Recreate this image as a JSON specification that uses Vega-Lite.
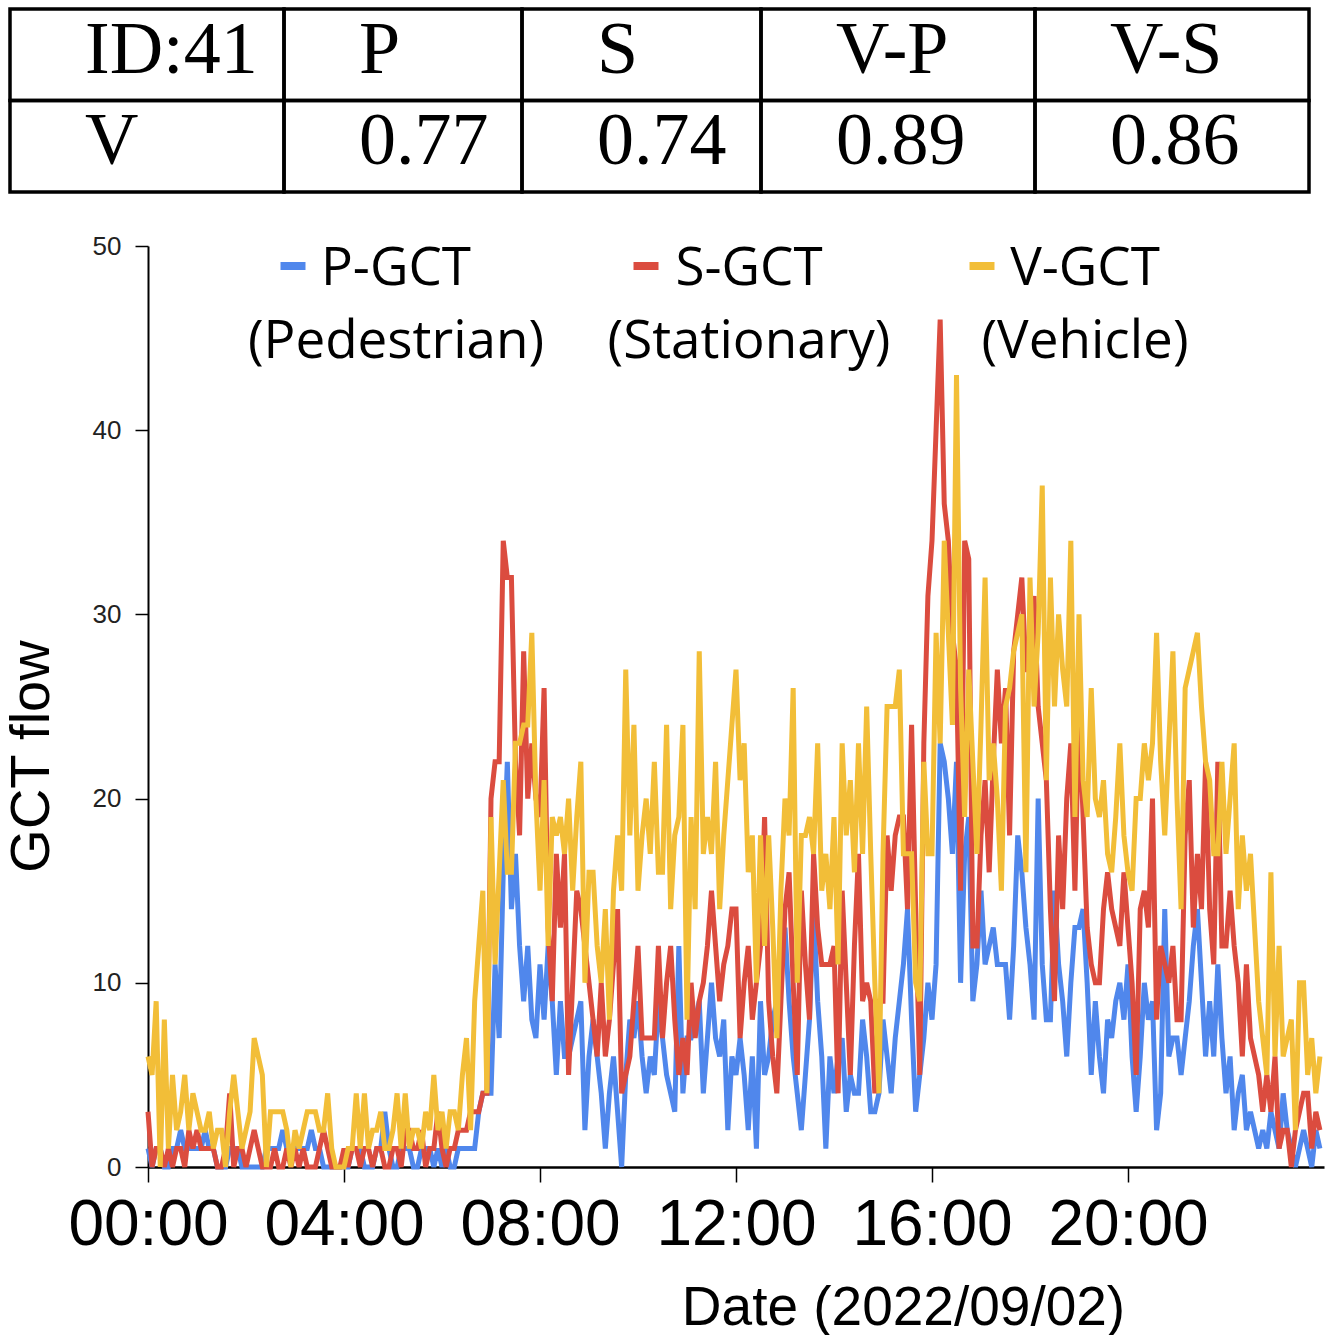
{
  "$schema": "https://vega.github.io/schema/vega-lite/v6.json",
  "description": "GCT flow by mode for grid ID 41 on 2022/09/02, with correlation table",
  "background": "white",
  "padding": {"left": 3, "top": 7, "right": 0, "bottom": 0},
  "config": {
    "view": {"stroke": null},
    "font": "Liberation Sans",
    "style": {"guide-label": {"lineHeight": 73}}
  },
  "datasets": {
    "table": [
      {"col": 0, "row": 0, "label": "ID:41"},
      {"col": 0, "row": 1, "label": "V"},
      {"col": 1, "row": 0, "label": "P"},
      {"col": 1, "row": 1, "label": "0.77"},
      {"col": 2, "row": 0, "label": "S"},
      {"col": 2, "row": 1, "label": "0.74"},
      {"col": 3, "row": 0, "label": "V-P"},
      {"col": 3, "row": 1, "label": "0.89"},
      {"col": 4, "row": 0, "label": "V-S"},
      {"col": 4, "row": 1, "label": "0.86"}
    ],
    "gct": [
      {"t":0,"p":1,"s":3,"v":6},{"t":5,"p":0,"s":0,"v":5},{"t":10,"p":1,"s":1,"v":9},{"t":15,"p":1,"s":1,"v":0},{"t":20,"p":0,"s":0,"v":8},
      {"t":25,"p":0,"s":1,"v":1},{"t":30,"p":1,"s":0,"v":5},{"t":35,"p":1,"s":1,"v":2},{"t":40,"p":2,"s":1,"v":3},{"t":45,"p":1,"s":0,"v":5},
      {"t":50,"p":1,"s":2,"v":2},{"t":55,"p":1,"s":1,"v":4},{"t":60,"p":1,"s":2,"v":3},{"t":65,"p":1,"s":1,"v":2},{"t":70,"p":2,"s":1,"v":2},
      {"t":75,"p":1,"s":1,"v":3},{"t":80,"p":1,"s":1,"v":1},{"t":85,"p":0,"s":0,"v":2},{"t":90,"p":0,"s":0,"v":2},{"t":95,"p":0,"s":1,"v":0},
      {"t":100,"p":1,"s":4,"v":3},{"t":105,"p":1,"s":0,"v":5},{"t":110,"p":1,"s":1,"v":3},{"t":115,"p":0,"s":1,"v":1},{"t":120,"p":0,"s":0,"v":2},
      {"t":125,"p":0,"s":1,"v":3},{"t":130,"p":0,"s":2,"v":7},{"t":135,"p":0,"s":1,"v":6},{"t":140,"p":0,"s":0,"v":5},{"t":145,"p":1,"s":0,"v":0},
      {"t":150,"p":1,"s":0,"v":3},{"t":155,"p":1,"s":1,"v":3},{"t":160,"p":1,"s":0,"v":3},{"t":165,"p":2,"s":0,"v":3},{"t":170,"p":1,"s":1,"v":2},
      {"t":175,"p":1,"s":0,"v":0},{"t":180,"p":1,"s":1,"v":2},{"t":185,"p":1,"s":0,"v":1},{"t":190,"p":1,"s":1,"v":2},{"t":195,"p":1,"s":0,"v":3},
      {"t":200,"p":2,"s":0,"v":3},{"t":205,"p":1,"s":0,"v":3},{"t":210,"p":1,"s":1,"v":2},{"t":215,"p":0,"s":2,"v":2},{"t":220,"p":0,"s":1,"v":4},
      {"t":225,"p":0,"s":0,"v":1},{"t":230,"p":0,"s":0,"v":0},{"t":235,"p":0,"s":0,"v":0},{"t":240,"p":0,"s":1,"v":0},{"t":245,"p":0,"s":0,"v":1},
      {"t":250,"p":1,"s":1,"v":1},{"t":255,"p":1,"s":1,"v":4},{"t":260,"p":1,"s":0,"v":1},{"t":265,"p":0,"s":1,"v":4},{"t":270,"p":0,"s":1,"v":1},
      {"t":275,"p":0,"s":0,"v":2},{"t":280,"p":1,"s":1,"v":2},{"t":285,"p":1,"s":1,"v":3},{"t":290,"p":3,"s":0,"v":1},{"t":295,"p":1,"s":0,"v":1},
      {"t":300,"p":0,"s":1,"v":2},{"t":305,"p":0,"s":1,"v":4},{"t":310,"p":1,"s":0,"v":1},{"t":315,"p":1,"s":2,"v":4},{"t":320,"p":1,"s":2,"v":1},
      {"t":325,"p":0,"s":1,"v":2},{"t":330,"p":0,"s":1,"v":2},{"t":335,"p":1,"s":2,"v":1},{"t":340,"p":1,"s":0,"v":3},{"t":345,"p":1,"s":1,"v":2},
      {"t":350,"p":0,"s":1,"v":5},{"t":355,"p":1,"s":3,"v":2},{"t":360,"p":0,"s":1,"v":3},{"t":365,"p":1,"s":0,"v":1},{"t":370,"p":0,"s":1,"v":3},
      {"t":375,"p":0,"s":1,"v":3},{"t":380,"p":1,"s":2,"v":2},{"t":385,"p":1,"s":2,"v":5},{"t":390,"p":1,"s":2,"v":7},{"t":395,"p":1,"s":3,"v":2},
      {"t":400,"p":1,"s":3,"v":9},{"t":405,"p":3,"s":3,"v":12},{"t":410,"p":4,"s":4,"v":15},{"t":415,"p":4,"s":4,"v":4},{"t":420,"p":4,"s":20,"v":19},
      {"t":425,"p":11,"s":22,"v":11},{"t":430,"p":7,"s":22,"v":16},{"t":435,"p":16,"s":34,"v":21},{"t":440,"p":22,"s":32,"v":16},{"t":445,"p":14,"s":32,"v":16},
      {"t":450,"p":17,"s":22,"v":23},{"t":455,"p":12,"s":18,"v":23},{"t":460,"p":9,"s":28,"v":24},{"t":465,"p":12,"s":20,"v":24},{"t":470,"p":8,"s":23,"v":29},
      {"t":475,"p":7,"s":20,"v":20},{"t":480,"p":11,"s":19,"v":15},{"t":485,"p":8,"s":26,"v":21},{"t":490,"p":12,"s":13,"v":12},{"t":495,"p":9,"s":9,"v":19},
      {"t":500,"p":5,"s":17,"v":18},{"t":505,"p":9,"s":13,"v":19},{"t":510,"p":6,"s":17,"v":17},{"t":515,"p":6,"s":5,"v":20},{"t":520,"p":7,"s":10,"v":15},
      {"t":525,"p":8,"s":15,"v":19},{"t":530,"p":9,"s":14,"v":22},{"t":535,"p":2,"s":12,"v":10},{"t":540,"p":6,"s":10,"v":16},{"t":545,"p":8,"s":8,"v":16},
      {"t":550,"p":6,"s":6,"v":12},{"t":555,"p":4,"s":10,"v":10},{"t":560,"p":1,"s":6,"v":14},{"t":565,"p":4,"s":8,"v":8},{"t":570,"p":6,"s":11,"v":15},
      {"t":575,"p":3,"s":14,"v":18},{"t":580,"p":0,"s":4,"v":15},{"t":585,"p":5,"s":5,"v":27},{"t":590,"p":8,"s":6,"v":18},{"t":595,"p":7,"s":9,"v":24},
      {"t":600,"p":9,"s":12,"v":15},{"t":605,"p":6,"s":7,"v":18},{"t":610,"p":4,"s":7,"v":20},{"t":615,"p":6,"s":7,"v":17},{"t":620,"p":5,"s":7,"v":22},
      {"t":625,"p":9,"s":12,"v":16},{"t":630,"p":7,"s":7,"v":16},{"t":635,"p":5,"s":10,"v":24},{"t":640,"p":4,"s":12,"v":14},{"t":645,"p":3,"s":8,"v":18},
      {"t":650,"p":12,"s":5,"v":19},{"t":655,"p":4,"s":7,"v":24},{"t":660,"p":7,"s":5,"v":8},{"t":665,"p":7,"s":10,"v":19},{"t":670,"p":8,"s":7,"v":14},
      {"t":675,"p":9,"s":9,"v":28},{"t":680,"p":4,"s":10,"v":17},{"t":685,"p":7,"s":12,"v":19},{"t":690,"p":10,"s":15,"v":17},{"t":695,"p":7,"s":12,"v":22},
      {"t":700,"p":6,"s":9,"v":14},{"t":705,"p":8,"s":11,"v":18},{"t":710,"p":2,"s":12,"v":21},{"t":715,"p":6,"s":14,"v":24},{"t":720,"p":5,"s":14,"v":27},
      {"t":725,"p":7,"s":7,"v":21},{"t":730,"p":5,"s":10,"v":23},{"t":735,"p":2,"s":12,"v":16},{"t":740,"p":6,"s":8,"v":18},{"t":745,"p":1,"s":10,"v":10},
      {"t":750,"p":9,"s":12,"v":18},{"t":755,"p":5,"s":19,"v":12},{"t":760,"p":6,"s":9,"v":18},{"t":765,"p":8,"s":6,"v":13},{"t":770,"p":9,"s":4,"v":7},
      {"t":775,"p":11,"s":9,"v":15},{"t":780,"p":13,"s":14,"v":20},{"t":785,"p":9,"s":16,"v":18},{"t":790,"p":6,"s":10,"v":26},{"t":795,"p":4,"s":5,"v":10},
      {"t":800,"p":2,"s":15,"v":18},{"t":805,"p":5,"s":11,"v":18},{"t":810,"p":8,"s":8,"v":19},{"t":815,"p":14,"s":17,"v":17},{"t":820,"p":9,"s":13,"v":23},
      {"t":825,"p":6,"s":11,"v":15},{"t":830,"p":1,"s":11,"v":17},{"t":835,"p":6,"s":11,"v":14},{"t":840,"p":4,"s":12,"v":19},{"t":845,"p":6,"s":4,"v":11},
      {"t":850,"p":7,"s":15,"v":23},{"t":855,"p":3,"s":10,"v":18},{"t":860,"p":5,"s":5,"v":21},{"t":865,"p":4,"s":12,"v":16},{"t":870,"p":4,"s":17,"v":23},
      {"t":875,"p":8,"s":9,"v":17},{"t":880,"p":6,"s":10,"v":25},{"t":885,"p":3,"s":9,"v":17},{"t":890,"p":3,"s":4,"v":10},{"t":895,"p":4,"s":9,"v":4},
      {"t":900,"p":8,"s":9,"v":17},{"t":905,"p":6,"s":18,"v":25},{"t":910,"p":4,"s":15,"v":25},{"t":915,"p":7,"s":18,"v":25},{"t":920,"p":9,"s":19,"v":27},
      {"t":925,"p":11,"s":19,"v":17},{"t":930,"p":14,"s":14,"v":17},{"t":935,"p":8,"s":24,"v":17},{"t":940,"p":3,"s":14,"v":10},{"t":945,"p":5,"s":5,"v":9},
      {"t":950,"p":7,"s":23,"v":22},{"t":955,"p":10,"s":31,"v":17},{"t":960,"p":8,"s":34,"v":17},{"t":965,"p":11,"s":40,"v":29},{"t":970,"p":23,"s":46,"v":23},
      {"t":975,"p":22,"s":36,"v":34},{"t":980,"p":20,"s":34,"v":29},{"t":985,"p":17,"s":29,"v":24},{"t":990,"p":22,"s":27,"v":43},{"t":995,"p":10,"s":15,"v":26},
      {"t":1000,"p":17,"s":34,"v":19},{"t":1005,"p":19,"s":33,"v":27},{"t":1010,"p":9,"s":12,"v":22},{"t":1015,"p":11,"s":12,"v":17},{"t":1020,"p":15,"s":18,"v":24},
      {"t":1025,"p":11,"s":21,"v":32},{"t":1030,"p":12,"s":16,"v":21},{"t":1035,"p":13,"s":22,"v":23},{"t":1040,"p":11,"s":27,"v":20},{"t":1045,"p":11,"s":23,"v":15},
      {"t":1050,"p":11,"s":26,"v":25},{"t":1055,"p":8,"s":18,"v":26},{"t":1060,"p":12,"s":28,"v":28},{"t":1065,"p":18,"s":30,"v":29},{"t":1070,"p":16,"s":32,"v":30},
      {"t":1075,"p":13,"s":27,"v":16},{"t":1080,"p":11,"s":27,"v":32},{"t":1085,"p":8,"s":31,"v":25},{"t":1090,"p":20,"s":25,"v":29},{"t":1095,"p":11,"s":23,"v":37},
      {"t":1100,"p":8,"s":21,"v":21},{"t":1105,"p":8,"s":14,"v":32},{"t":1110,"p":15,"s":9,"v":25},{"t":1115,"p":11,"s":18,"v":30},{"t":1120,"p":9,"s":14,"v":27},
      {"t":1125,"p":6,"s":20,"v":25},{"t":1130,"p":10,"s":23,"v":34},{"t":1135,"p":13,"s":15,"v":19},{"t":1140,"p":13,"s":25,"v":30},{"t":1145,"p":14,"s":19,"v":21},
      {"t":1150,"p":10,"s":13,"v":19},{"t":1155,"p":5,"s":11,"v":26},{"t":1160,"p":9,"s":10,"v":20},{"t":1165,"p":6,"s":10,"v":19},{"t":1170,"p":4,"s":14,"v":21},
      {"t":1175,"p":8,"s":16,"v":17},{"t":1180,"p":7,"s":14,"v":16},{"t":1185,"p":9,"s":13,"v":19},{"t":1190,"p":10,"s":12,"v":23},{"t":1195,"p":8,"s":16,"v":18},
      {"t":1200,"p":11,"s":13,"v":16},{"t":1205,"p":6,"s":10,"v":15},{"t":1210,"p":3,"s":5,"v":20},{"t":1215,"p":6,"s":14,"v":20},{"t":1220,"p":10,"s":15,"v":23},
      {"t":1225,"p":8,"s":13,"v":21},{"t":1230,"p":9,"s":20,"v":23},{"t":1235,"p":2,"s":8,"v":29},{"t":1240,"p":4,"s":12,"v":22},{"t":1245,"p":14,"s":11,"v":18},
      {"t":1250,"p":6,"s":10,"v":23},{"t":1255,"p":7,"s":12,"v":28},{"t":1260,"p":7,"s":8,"v":20},{"t":1265,"p":5,"s":8,"v":14},{"t":1270,"p":7,"s":18,"v":26},
      {"t":1275,"p":9,"s":21,"v":27},{"t":1280,"p":12,"s":13,"v":28},{"t":1285,"p":14,"s":17,"v":29},{"t":1290,"p":10,"s":14,"v":25},{"t":1295,"p":6,"s":22,"v":22},
      {"t":1300,"p":9,"s":14,"v":21},{"t":1305,"p":6,"s":11,"v":17},{"t":1310,"p":11,"s":22,"v":17},{"t":1315,"p":7,"s":12,"v":22},{"t":1320,"p":4,"s":12,"v":17},
      {"t":1325,"p":6,"s":15,"v":20},{"t":1330,"p":2,"s":12,"v":23},{"t":1335,"p":4,"s":10,"v":14},{"t":1340,"p":5,"s":6,"v":18},{"t":1345,"p":2,"s":11,"v":15},
      {"t":1350,"p":3,"s":7,"v":17},{"t":1355,"p":2,"s":6,"v":13},{"t":1360,"p":1,"s":5,"v":9},{"t":1365,"p":2,"s":3,"v":7},{"t":1370,"p":1,"s":5,"v":5},
      {"t":1375,"p":3,"s":3,"v":16},{"t":1380,"p":2,"s":6,"v":6},{"t":1385,"p":1,"s":1,"v":12},{"t":1390,"p":4,"s":2,"v":6},{"t":1395,"p":2,"s":2,"v":7},
      {"t":1400,"p":1,"s":0,"v":8},{"t":1405,"p":0,"s":2,"v":2},{"t":1410,"p":1,"s":3,"v":10},{"t":1415,"p":2,"s":4,"v":10},{"t":1420,"p":1,"s":4,"v":5},
      {"t":1425,"p":0,"s":1,"v":7},{"t":1430,"p":2,"s":3,"v":4},{"t":1435,"p":1,"s":2,"v":6}
    ]
  },
  "vconcat": [
    {
      "hconcat": [
        {
          "width": 274, "height": 183,
          "data": {"name": "table"},
          "transform": [{"filter": "datum.col == 0"}],
          "encoding": {"y": {"field": "row", "type": "ordinal", "axis": null, "scale": {"paddingInner": 0, "paddingOuter": 0}}},
          "layer": [
            {"mark": {"type": "rect", "filled": false, "stroke": "black", "strokeWidth": 3.5}},
            {"mark": {"type": "text", "align": "left", "baseline": "alphabetic", "dy": 18, "font": "Liberation Serif", "fontSize": 74, "color": "black"},
             "encoding": {"x": {"value": 75}, "text": {"field": "label"}}}
          ]
        },
        {
          "width": 238, "height": 183,
          "data": {"name": "table"},
          "transform": [{"filter": "datum.col == 1"}],
          "encoding": {"y": {"field": "row", "type": "ordinal", "axis": null, "scale": {"paddingInner": 0, "paddingOuter": 0}}},
          "layer": [
            {"mark": {"type": "rect", "filled": false, "stroke": "black", "strokeWidth": 3.5}},
            {"mark": {"type": "text", "align": "left", "baseline": "alphabetic", "dy": 18, "font": "Liberation Serif", "fontSize": 74, "color": "black"},
             "encoding": {"x": {"value": 75}, "text": {"field": "label"}}}
          ]
        },
        {
          "width": 239, "height": 183,
          "data": {"name": "table"},
          "transform": [{"filter": "datum.col == 2"}],
          "encoding": {"y": {"field": "row", "type": "ordinal", "axis": null, "scale": {"paddingInner": 0, "paddingOuter": 0}}},
          "layer": [
            {"mark": {"type": "rect", "filled": false, "stroke": "black", "strokeWidth": 3.5}},
            {"mark": {"type": "text", "align": "left", "baseline": "alphabetic", "dy": 18, "font": "Liberation Serif", "fontSize": 74, "color": "black"},
             "encoding": {"x": {"value": 75}, "text": {"field": "label"}}}
          ]
        },
        {
          "width": 274, "height": 183,
          "data": {"name": "table"},
          "transform": [{"filter": "datum.col == 3"}],
          "encoding": {"y": {"field": "row", "type": "ordinal", "axis": null, "scale": {"paddingInner": 0, "paddingOuter": 0}}},
          "layer": [
            {"mark": {"type": "rect", "filled": false, "stroke": "black", "strokeWidth": 3.5}},
            {"mark": {"type": "text", "align": "left", "baseline": "alphabetic", "dy": 18, "font": "Liberation Serif", "fontSize": 74, "color": "black"},
             "encoding": {"x": {"value": 75}, "text": {"field": "label"}}}
          ]
        },
        {
          "width": 274, "height": 183,
          "data": {"name": "table"},
          "transform": [{"filter": "datum.col == 4"}],
          "encoding": {"y": {"field": "row", "type": "ordinal", "axis": null, "scale": {"paddingInner": 0, "paddingOuter": 0}}},
          "layer": [
            {"mark": {"type": "rect", "filled": false, "stroke": "black", "strokeWidth": 3.5}},
            {"mark": {"type": "text", "align": "left", "baseline": "alphabetic", "dy": 18, "font": "Liberation Serif", "fontSize": 74, "color": "black"},
             "encoding": {"x": {"value": 75}, "text": {"field": "label"}}}
          ]
        }
      ],
      "spacing": 0,
      "bounds": "flush"
    },
    {
      "hconcat": [
        {
          "width": 138,
          "height": 921,
          "data": {"values": []},
          "mark": "point"
        },
        {
          "width": 1176,
          "height": 921,
          "data": {"name": "gct"},
          "transform": [{"fold": ["p", "s", "v"], "as": ["series", "flow"]}],
          "mark": {"type": "line", "strokeWidth": 5},
          "encoding": {
            "x": {
              "field": "t",
              "type": "quantitative",
              "scale": {"domain": [0, 1440], "nice": false},
              "axis": {
                "values": [0, 240, 480, 720, 960, 1200],
                "labelExpr": "(datum.value < 600 ? '0' : '') + (datum.value / 60) + ':00'",
                "grid": false,
                "domainColor": "black",
                "domainWidth": 2.5,
                "tickColor": "black",
                "tickSize": 15,
                "tickWidth": 1.5,
                "labelFont": "Liberation Sans",
                "labelFontSize": 64,
                "labelColor": "black",
                "labelPadding": 11,
                "labelFlush": false,
                "labelOverlap": false,
                "title": "Date (2022/09/02)",
                "titleFont": "Liberation Sans",
                "titleFontSize": 55,
                "titleFontWeight": "normal",
                "titleColor": "black",
                "titleX": 755,
                "titlePadding": 24
              }
            },
            "y": {
              "field": "flow",
              "type": "quantitative",
              "scale": {"domain": [0, 50], "nice": false},
              "axis": {
                "values": [0, 10, 20, 30, 40, 50],
                "grid": false,
                "domainColor": "black",
                "domainWidth": 2,
                "tickColor": "black",
                "tickSize": 13,
                "tickWidth": 1.5,
                "labelFont": "Liberation Sans",
                "labelFontSize": 26,
                "labelColor": "#222222",
                "labelPadding": 14,
                "title": "GCT flow",
                "titleFont": "Liberation Sans",
                "titleFontSize": 56,
                "titleFontWeight": "normal",
                "titleColor": "black",
                "titleY": 510,
                "titlePadding": 32
              }
            },
            "color": {
              "field": "series",
              "type": "nominal",
              "scale": {"domain": ["p", "s", "v"], "range": ["#5087EC", "#DB4C3F", "#F2BE38"]},
              "legend": {
                "orient": "none",
                "legendX": 116,
                "legendY": 10,
                "direction": "horizontal",
                "columns": 3,
                "title": null,
                "padding": 0,
                "columnPadding": 62,
                "labelFont": "Open Sans",
                "labelFontSize": 53,
                "labelColor": "black",
                "labelAlign": "center",
                "labelBaseline": "alphabetic",
                "labelOffset": 74,
                "labelLimit": 1000,
                "symbolType": "M-0.5,-0.76H0.5",
                "symbolSize": 2500,
                "symbolStrokeWidth": 8,
                "labelExpr": "datum.value == 'p' ? ['P-GCT', '(Pedestrian)'] : datum.value == 's' ? ['S-GCT', '(Stationary)'] : ['V-GCT', '(Vehicle)']"
              }
            }
          }
        }
      ],
      "spacing": 0,
      "bounds": "flush",
      "resolve": {"legend": {"color": "independent"}}
    }
  ],
  "spacing": 39,
  "resolve": {"legend": {"color": "independent"}}
}
